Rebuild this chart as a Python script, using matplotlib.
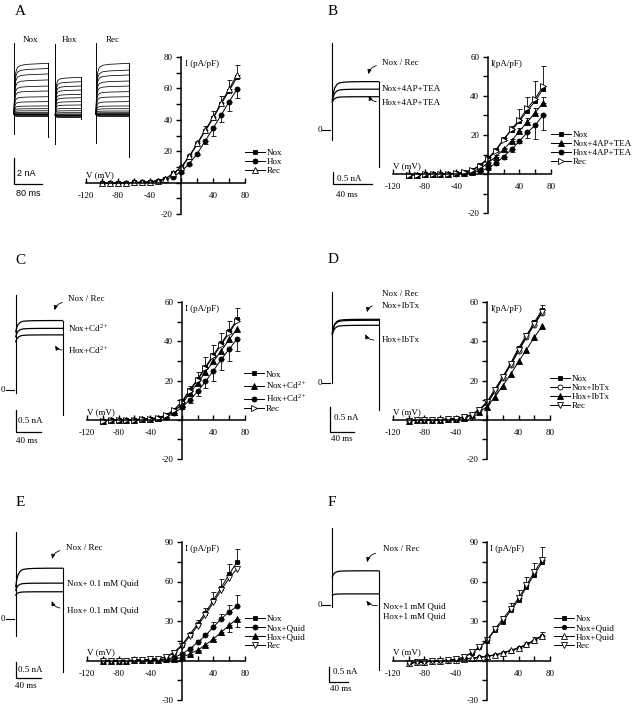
import numpy as np
import matplotlib
matplotlib.use('Agg')
import matplotlib.pyplot as plt
from matplotlib.lines import Line2D
from matplotlib.patches import FancyArrowPatch

plt.rcParams['font.family'] = ['Liberation Serif', 'DejaVu Serif']
plt.rcParams['mathtext.fontset'] = 'custom'
plt.rcParams['mathtext.rm'] = 'Liberation Serif'
plt.rcParams['axes.unicode_minus'] = False

W, H = 638, 707

# ---- I-V data (pA/pF), steps -100..+70 mV ----
volts = [-100, -90, -80, -70, -60, -50, -40, -30, -20, -10, 0, 10, 20, 30, 40, 50, 60, 70]

A_nox = [-0.5, -0.3, -0.2, 0.0, 0.1, 0.2, 0.4, 1.2, 2.5, 5.8, 9.5, 16.5, 24.5, 33.0, 41.0, 50.0, 58.5, 67.0]
A_hox = [-0.5, -0.3, -0.2, 0.0, 0.1, 0.2, 0.4, 1.0, 2.1, 3.8, 7.0, 12.1, 18.5, 26.6, 34.7, 43.0, 51.5, 59.6]
A_rec = [-0.5, -0.3, -0.2, 0.0, 0.1, 0.3, 0.5, 1.3, 2.6, 6.0, 10.0, 17.0, 25.1, 33.6, 41.5, 51.0, 59.6, 68.7]
A_hox_err = [0.2, 0.2, 0.2, 0.2, 0.2, 0.2, 0.2, 0.3, 0.4, 0.6, 0.8, 1.0, 1.2, 2.1, 4.9, 4.7, 5.8, 6.0]
A_rec_err = [0.2, 0.2, 0.2, 0.2, 0.2, 0.2, 0.2, 0.3, 0.5, 0.8, 1.0, 1.3, 1.5, 2.6, 4.2, 4.3, 5.9, 6.3]

B_nox = [-0.5, -0.3, -0.2, 0.0, 0.1, 0.2, 0.4, 1.2, 2.0, 4.6, 8.0, 12.3, 17.9, 22.5, 27.0, 32.5, 37.3, 43.8]
B_nox_tea = [-0.5, -0.3, -0.2, 0.0, 0.0, 0.1, 0.3, 0.6, 1.2, 2.9, 5.5, 8.9, 12.6, 16.9, 22.0, 26.7, 31.5, 36.5]
B_hox_tea = [-0.5, -0.3, -0.2, 0.0, 0.0, 0.1, 0.2, 0.4, 0.8, 1.5, 2.9, 5.5, 8.9, 12.6, 16.9, 21.3, 25.0, 30.2]
B_rec = [-0.5, -0.3, -0.2, 0.0, 0.1, 0.2, 0.4, 1.0, 1.8, 4.2, 7.5, 11.8, 17.5, 23.0, 27.8, 33.6, 38.7, 45.0]
B_nox_tea_err = [0.2, 0.2, 0.2, 0.2, 0.2, 0.2, 0.2, 0.2, 0.3, 0.4, 0.5, 0.6, 0.8, 1.0, 1.5, 2.0, 2.5, 3.0]
B_hox_tea_err = [0.2, 0.2, 0.2, 0.2, 0.2, 0.2, 0.2, 0.2, 0.3, 0.5, 0.8, 1.0, 1.2, 1.5, 1.2, 3.0, 7.3, 7.5]
B_rec_err = [0.2, 0.2, 0.2, 0.2, 0.2, 0.2, 0.2, 0.3, 0.5, 0.8, 1.0, 1.2, 1.2, 1.5, 5.4, 6.0, 8.8, 10.4]

C_nox = [-0.5, -0.3, -0.2, 0.0, 0.1, 0.3, 0.6, 1.0, 2.4, 5.0, 9.2, 15.2, 20.7, 27.0, 33.0, 39.0, 45.0, 51.1]
C_nox_cd = [-0.5, -0.3, -0.2, 0.0, 0.1, 0.2, 0.5, 0.9, 2.0, 4.1, 7.9, 13.5, 18.6, 24.3, 29.7, 35.2, 40.9, 46.3]
C_hox_cd = [-0.5, -0.3, -0.2, 0.0, 0.1, 0.2, 0.4, 0.8, 1.5, 3.2, 6.3, 10.0, 14.4, 19.5, 25.0, 30.8, 36.0, 41.2]
C_rec = [-0.5, -0.3, -0.2, 0.0, 0.1, 0.3, 0.6, 1.0, 2.3, 4.8, 8.8, 14.6, 20.2, 26.3, 32.3, 38.3, 44.3, 50.3]
C_nox_err = [0.2, 0.2, 0.2, 0.2, 0.2, 0.2, 0.2, 0.3, 0.4, 0.8, 1.2, 2.2, 3.6, 4.8, 5.3, 5.4, 5.3, 5.6]
C_hox_cd_err = [0.2, 0.2, 0.2, 0.2, 0.2, 0.2, 0.2, 0.3, 0.4, 0.6, 1.0, 1.5, 2.5, 3.5, 5.5, 5.3, 6.0, 6.0]

D_nox = [-0.5, -0.3, -0.2, 0.0, 0.1, 0.3, 0.6, 1.4, 2.4, 5.3, 9.2, 15.7, 22.0, 28.9, 36.6, 43.0, 49.7, 55.9]
D_nox_ibtx = [-0.5, -0.3, -0.2, 0.0, 0.1, 0.3, 0.6, 1.3, 2.3, 5.0, 8.4, 14.4, 21.2, 28.0, 34.9, 42.0, 48.5, 54.5]
D_hox_ibtx = [-0.5, -0.3, -0.2, 0.0, 0.1, 0.3, 0.5, 1.1, 2.4, 4.1, 6.7, 11.8, 17.4, 23.2, 29.7, 35.7, 42.0, 47.7]
D_rec = [-0.5, -0.3, -0.2, 0.0, 0.1, 0.3, 0.6, 1.4, 2.5, 5.2, 8.8, 15.0, 21.6, 28.4, 35.6, 42.5, 49.0, 55.0]
D_nox_err = [0.2, 0.2, 0.2, 0.2, 0.2, 0.2, 0.2, 0.2, 0.3, 0.4, 0.5, 0.6, 0.7, 0.8, 0.9, 1.0, 1.2, 2.6]

E_nox = [-0.5, -0.3, -0.2, 0.0, 0.2, 0.5, 0.8, 1.5, 2.8, 6.2, 11.8, 19.7, 27.9, 36.4, 45.9, 55.4, 65.6, 74.9]
E_nox_quid = [-0.5, -0.3, -0.2, 0.0, 0.1, 0.3, 0.5, 0.8, 1.0, 2.3, 4.9, 8.7, 13.8, 19.0, 25.4, 31.8, 36.9, 41.3]
E_hox_quid = [-0.5, -0.3, -0.2, 0.0, 0.1, 0.2, 0.4, 0.6, 0.8, 1.0, 2.3, 4.9, 7.9, 11.8, 16.4, 21.5, 26.7, 31.8]
E_rec = [-0.5, -0.3, -0.2, 0.0, 0.2, 0.5, 0.8, 1.4, 2.6, 5.6, 10.8, 18.5, 26.2, 34.9, 44.1, 53.6, 62.6, 69.7]
E_nox_err = [0.8, 0.8, 0.8, 0.8, 0.8, 0.8, 0.8, 0.8, 0.8, 1.0, 1.5, 2.0, 2.6, 3.6, 5.9, 6.4, 7.7, 9.5]
E_nox_quid_err = [0.2, 0.2, 0.2, 0.2, 0.2, 0.2, 0.2, 0.3, 0.4, 0.5, 0.8, 1.2, 1.5, 2.0, 3.8, 3.8, 5.0, 8.4]
E_hox_quid_err = [0.2, 0.2, 0.2, 0.2, 0.2, 0.2, 0.2, 0.2, 0.3, 0.4, 0.5, 0.8, 1.0, 1.2, 1.4, 2.5, 5.2, 6.4]

F_nox = [-2.0, -1.5, -1.0, -0.6, -0.2, 0.3, 1.0, 2.3, 5.6, 10.0, 15.0, 23.5, 29.6, 38.0, 45.7, 55.9, 65.3, 74.5]
F_nox_quid = [-2.0, -1.5, -1.0, -0.6, -0.3, 0.0, 0.4, 1.0, 1.5, 2.3, 3.1, 4.1, 5.6, 7.4, 9.2, 11.7, 15.0, 18.4]
F_hox_quid = [-1.8, -1.3, -0.8, -0.4, -0.1, 0.2, 0.6, 1.1, 1.7, 2.5, 3.4, 4.4, 5.9, 7.8, 9.8, 12.3, 15.8, 18.9]
F_rec = [-2.0, -1.5, -1.0, -0.6, -0.2, 0.3, 1.0, 2.4, 6.1, 10.0, 15.8, 24.0, 31.6, 39.3, 47.4, 57.1, 67.3, 76.3]
F_rec_err = [0.5, 0.5, 0.5, 0.5, 0.5, 0.5, 0.5, 0.5, 0.8, 1.0, 1.5, 2.0, 2.5, 4.0, 6.0, 6.5, 7.0, 10.0]
F_hox_quid_err = [0.3, 0.3, 0.3, 0.3, 0.3, 0.3, 0.3, 0.3, 0.3, 0.4, 0.5, 0.6, 0.8, 1.0, 1.2, 1.5, 1.8, 2.5]

# ---- current traces (nA) ----
A_nox_levels = [3.9, 3.5, 3.08, 2.62, 2.15, 1.77, 1.33, 0.95, 0.62, 0.41, 0.25, 0.13, 0.05, 0.0, -0.05, -0.1, -0.15, -0.2]
A_hox_levels = [2.9, 2.56, 2.23, 1.92, 1.59, 1.33, 1.03, 0.77, 0.51, 0.33, 0.18, 0.08, 0.02, 0.0, -0.05, -0.1, -0.15, -0.2]
A_rec_levels = [3.9, 3.38, 3.0, 2.54, 2.15, 1.72, 1.33, 0.95, 0.62, 0.41, 0.23, 0.1, 0.03, 0.0, -0.05, -0.1, -0.15, -0.2]
A_durations = [97, 73, 94]          # ms
A_spikes = [(-1.5, 5.5), (-2.2, 5.5), (-2.2, 5.5)]
A_tails = [-1.8, -0.3, -3.3]
# time course of activation (fraction of step, fraction of plateau)
A_shape_t = [0, 0.02, 0.05, 0.1, 0.2, 0.4, 0.7, 1.0]
A_shape_f = [0, 0.55, 0.82, 0.92, 0.96, 0.98, 0.99, 1.0]

step_shape_t = [0, 0.02, 0.05, 0.1, 0.15, 0.25, 0.4, 0.7, 1.0]
step_shape_f = [0, 0.35, 0.65, 0.85, 0.93, 0.97, 0.99, 1.0, 1.0]

B_levels = [1.92, 1.62, 1.32]
B_dips = [1.19, 1.15, 1.11]
C_levels = [1.6, 1.42, 1.27]
C_dips = [1.34, 1.23, 1.11]
D_levels = [1.28, 1.26, 1.16]
D_dips = [1.0, 1.0, 0.97]
E_levels = [1.53, 1.08, 0.82]
E_dips = [0.97, 0.87, 0.72]
F_levels = [1.14, 0.37]
F_dips = [0.93, 0.33]

fig = plt.figure(figsize=(W / 100, H / 100), dpi=100)


def fx(x):
    return x / W


def fy(y):
    return 1 - y / H


def px_axes(l, t, r, b):
    return fig.add_axes([l / W, 1 - b / H, (r - l) / W, (b - t) / H])


def iv_panel(box, ylim, ystep, series, leg_xy, ilabel):
    ax = px_axes(*box)
    ax.set_xlim(-120, 80)
    ax.set_ylim(*ylim)
    ax.patch.set_visible(False)
    for s in ['top', 'right']:
        ax.spines[s].set_visible(False)
    for s in ['left', 'bottom']:
        ax.spines[s].set_position(('data', 0))
        ax.spines[s].set_linewidth(1.1)
    xt = list(range(-120, 81, 20))
    ax.set_xticks(xt)
    ax.set_xticklabels([str(v) if v in (-120, -80, -40, 40, 80) else '' for v in xt])
    yt = list(range(ylim[0], ylim[1] + 1, ystep))
    ax.set_yticks(yt)
    ax.set_yticklabels(['' if v == 0 else str(v) for v in yt])
    ax.set_yticks([v + ystep / 2 for v in yt[:-1]], minor=True)
    ax.tick_params(axis='x', direction='in', length=3.6, width=1, pad=6.5, labelsize=6.5)
    ax.tick_params(axis='y', which='both', direction='out', length=3.6, width=1, pad=2.5, labelsize=6.5)

    handles = []
    for label, y, m, fc, ms, err, side in series:
        y = np.array(y)
        if err is not None:
            e = np.array(err)
            z = np.zeros_like(e)
            yerr = [e, z] if side == 'lower' else [z, e]
            ax.errorbar(volts, y, yerr=yerr, fmt='none', ecolor='k', elinewidth=0.6,
                        capsize=1.8, capthick=0.6, clip_on=False)
        ax.plot(volts, y, color='k', lw=0.7, marker=m, ms=ms, mfc=fc, mec='k', mew=0.6, clip_on=False)
        handles.append(Line2D([], [], color='k', lw=0.7, marker=m, ms=ms, mfc=fc, mec='k', mew=0.6))
    ax.legend(handles, [s[0] for s in series], loc='upper left',
              bbox_to_anchor=(fx(leg_xy[0]), fy(leg_xy[1] - 5.5)), bbox_transform=fig.transFigure,
              frameon=False, fontsize=6.5, handlelength=2.2, handletextpad=0.25,
              labelspacing=0.1, borderpad=0, borderaxespad=0, numpoints=1)
    span = ylim[1] - ylim[0]
    ax.text(4, ylim[1] - 0.045 * span, ilabel, fontsize=6.5, ha='left', va='center')
    ax.text(-120, 0.05 * span, 'V (mV)', fontsize=6.5, ha='left', va='center')
    return ax


def trace_axes(t0, zero, ppms, ppna):
    box = (t0 - 20, zero - 110, t0 + 80, zero + 90)
    ax = px_axes(*box)
    ax.set_xlim((box[0] - t0) / ppms, (box[2] - t0) / ppms)
    ax.set_ylim((zero - box[3]) / ppna, (zero - box[1]) / ppna)
    ax.axis('off')
    return ax


def scale_bar(ax, t0, zero, ppms, ppna, corner, ms, na, lw=0.9):
    tc = (corner[0] - t0) / ppms
    ic = (zero - corner[1]) / ppna
    ax.plot([tc, tc, tc + ms], [ic + na, ic, ic], color='k', lw=lw, clip_on=False,
            solid_joinstyle='miter')


def ftext(x, y, s, size=6.5, ha='left', **kw):
    fig.text(fx(x), fy(y), s, fontsize=size, ha=ha, va='center', **kw)


def arrow(p1, p2, rad):
    a = FancyArrowPatch((fx(p1[0]), fy(p1[1])), (fx(p2[0]), fy(p2[1])),
                        transform=fig.transFigure, arrowstyle='-|>,head_length=2.6,head_width=1.1',
                        connectionstyle='arc3,rad=%s' % rad, lw=0.6, color='k', mutation_scale=1)
    fig.add_artist(a)


# ---------- Panel A ----------
A_ppms, A_ppna = 0.35, 13.0
A_origins = [(14, 114), (55.3, 115), (96, 114)]
for (t0, zero), levels, dur, spike, tail in zip(A_origins, [A_nox_levels, A_hox_levels, A_rec_levels],
                                               A_durations, A_spikes, A_tails):
    ax = trace_axes(t0, zero, A_ppms, A_ppna)
    t = np.array(A_shape_t) * dur
    for L in levels:
        ax.plot(t, L * np.array(A_shape_f), color='k', lw=0.55, clip_on=False)
    ax.plot([0, 0], spike, color='k', lw=0.7, clip_on=False)
    ax.plot([dur, dur], [levels[0], tail], color='k', lw=0.7, clip_on=False)
    if t0 == 14:
        scale_bar(ax, t0, zero, A_ppms, A_ppna, (14, 184), 80, 2)
ftext(31, 40, 'Nox', ha='center')
ftext(69, 40, 'Hox', ha='center')
ftext(113, 40, 'Rec', ha='center')
ftext(17.3, 173, '2 nA', family=['Liberation Sans', 'DejaVu Sans'])
ftext(28, 193, '80 ms', ha='center', family=['Liberation Sans', 'DejaVu Sans'])

iv_panel((86, 57, 245, 214), (-20, 80), 20,
         [('Nox', A_nox, 's', 'k', 3.2, None, None),
          ('Hox', A_hox, 'o', 'k', 3.6, A_hox_err, 'lower'),
          ('Rec', A_rec, '^', 'w', 3.9, A_rec_err, 'upper')],
         (245, 154), 'I (pA/pF)')


# ---------- Panels B-F traces ----------
def step_panel(t0, zero, ppms, ppna, dur, levels, dips, spike, tail, corner, na_xy, ms_xy):
    ax = trace_axes(t0, zero, ppms, ppna)
    t = np.array(step_shape_t) * dur
    f = np.array(step_shape_f)
    for L, d in zip(levels, dips):
        ax.plot(t, d + (L - d) * f, color='k', lw=0.9, clip_on=False)
    ax.plot([0, 0], spike, color='k', lw=0.8, clip_on=False)
    ax.plot([dur, dur], [levels[0], tail], color='k', lw=0.8, clip_on=False)
    ax.plot([-10 / ppms, -2 / ppms], [0, 0], color='k', lw=0.8, clip_on=False)
    ftext(t0 - 10.5, zero, '0', ha='right')
    scale_bar(ax, t0, zero, ppms, ppna, corner, 40, 0.5)
    ftext(na_xy[0], na_xy[1], '0.5 nA')
    ftext(ms_xy[0], ms_xy[1], '40 ms', ha='center')


step_panel(332.3, 130, 0.97, 25.2, 48, B_levels, B_dips, (-0.4, 3.45), -1.47,
           (333, 184.3), (336.7, 179), (347, 195))
step_panel(15.7, 390, 0.625, 43.4, 75, C_levels, C_dips, (-0.07, 2.19), -0.58,
           (15.7, 431.7), (18.3, 421), (27, 441))
step_panel(332.3, 383.3, 0.61, 50, 77, D_levels, D_dips, (0.0, 1.83), -0.53,
           (330, 431.7), (334, 418), (342, 439))
step_panel(15.7, 619, 0.625, 33.2, 75, E_levels, E_dips, (-0.5, 2.63), -1.59,
           (15.7, 678.3), (18.3, 670), (26, 686))
step_panel(332.3, 605, 0.48, 30, 97, F_levels, F_dips, (-0.06, 2.56), -2.17,
           (329, 681.7), (332.7, 672), (341, 689))

# annotations
ftext(382, 63, 'Nox / Rec')
ftext(381.7, 89, 'Nox+4AP+TEA')
ftext(381.7, 103, 'Hox+4AP+TEA')
arrow((379, 65), (368, 77), 0.4)
arrow((379, 102), (368, 93), -0.4)

ftext(68, 299, 'Nox / Rec')
ftext(68, 327.7, r'Nox+Cd$^{2+}$')
ftext(68, 350, r'Hox+Cd$^{2+}$')
arrow((65, 302), (54, 313), 0.4)
arrow((65, 350), (54, 343), -0.4)

ftext(381.7, 294.3, 'Nox / Rec')
ftext(381.7, 306, 'Nox+IbTx')
ftext(381.7, 340, 'Hox+IbTx')
arrow((375, 305), (366.7, 315), 0.4)
arrow((376.7, 340), (364, 331.7), -0.4)

ftext(65.7, 547.7, 'Nox / Rec')
ftext(66.7, 583.3, 'Nox+ 0.1 mM Quid')
ftext(66.7, 610, 'Hox+ 0.1 mM Quid')
arrow((62.7, 550), (51.7, 561.7), 0.4)
arrow((62.7, 608.3), (51, 598.3), -0.4)

ftext(383, 549, 'Nox / Rec')
ftext(383.3, 606, 'Nox+1 mM Quid')
ftext(383.3, 616.7, 'Hox+1 mM Quid')
arrow((378.3, 552.7), (366.7, 565), 0.4)
arrow((380, 605), (365, 598.3), -0.4)

# ---------- I-V panels B-F ----------
iv_panel((393, 57, 551, 213), (-20, 60), 20,
         [('Nox', B_nox, 's', 'k', 2.6, None, None),
          ('Nox+4AP+TEA', B_nox_tea, '^', 'k', 3.9, B_nox_tea_err, 'upper'),
          ('Hox+4AP+TEA', B_hox_tea, 'o', 'k', 3.6, B_hox_tea_err, 'lower'),
          ('Rec', B_rec, '>', 'w', 3.7, B_rec_err, 'upper')],
         (551, 136), 'I(pA/pF)')

iv_panel((87, 302, 245, 459), (-20, 60), 20,
         [('Nox', C_nox, 's', 'k', 2.8, C_nox_err, 'upper'),
          (r'Nox+Cd$^{2+}$', C_nox_cd, '^', 'k', 3.9, None, None),
          (r'Hox+Cd$^{2+}$', C_hox_cd, 'o', 'k', 3.6, C_hox_cd_err, 'lower'),
          ('Rec', C_rec, '>', 'w', 3.7, None, None)],
         (244, 375.7), 'I (pA/pF)')

iv_panel((393, 302, 550, 459), (-20, 60), 20,
         [('Nox', D_nox, 's', 'k', 3.0, D_nox_err, 'upper'),
          ('Nox+IbTx', D_nox_ibtx, 'o', 'w', 3.6, None, None),
          ('Hox+IbTx', D_hox_ibtx, '^', 'k', 3.9, None, None),
          ('Rec', D_rec, 'v', 'w', 3.9, None, None)],
         (550, 380), 'I(pA/pF)')

iv_panel((87, 542, 245, 700), (-30, 90), 30,
         [('Nox', E_nox, 's', 'k', 3.2, E_nox_err, 'upper'),
          ('Nox+Quid', E_nox_quid, 'o', 'k', 3.6, E_nox_quid_err, 'upper'),
          ('Hox+Quid', E_hox_quid, '^', 'k', 3.9, E_hox_quid_err, 'lower'),
          ('Rec', E_rec, 'v', 'w', 3.9, None, None)],
         (245, 620), 'I (pA/pF)')

iv_panel((393, 542, 550, 700), (-30, 90), 30,
         [('Nox', F_nox, 's', 'k', 3.2, None, None),
          ('Nox+Quid', F_nox_quid, 'o', 'k', 3.2, None, None),
          ('Hox+Quid', F_hox_quid, '^', 'w', 3.9, F_hox_quid_err, 'upper'),
          ('Rec', F_rec, 'v', 'w', 3.9, F_rec_err, 'upper')],
         (554, 620), 'I (pA/pF)')

# panel letters
for letter, x, y in [('A', 20.7, 11.7), ('B', 332.7, 11.7), ('C', 20, 260),
                     ('D', 332.7, 259.3), ('E', 20.7, 502.3), ('F', 331.7, 502.3)]:
    ftext(x, y, letter, size=11, ha='center')

fig.savefig('out.png', dpi=100)
